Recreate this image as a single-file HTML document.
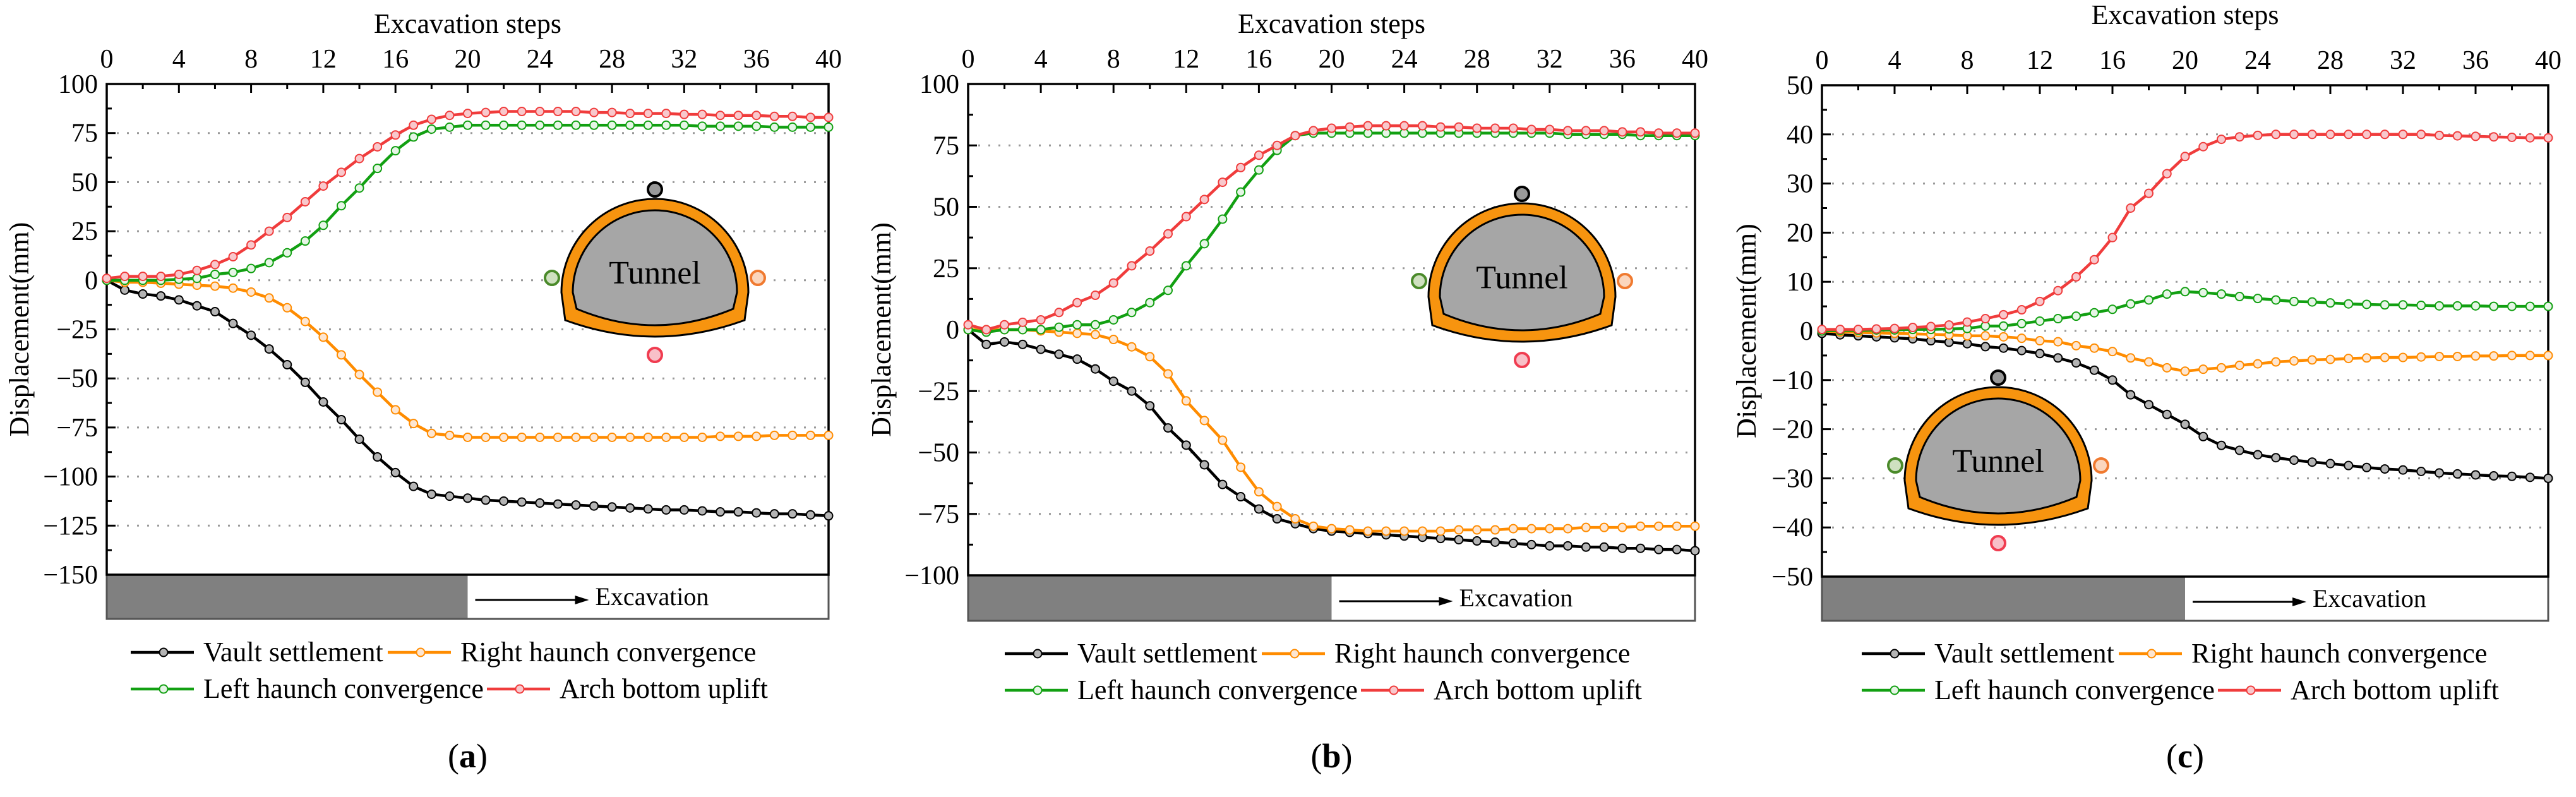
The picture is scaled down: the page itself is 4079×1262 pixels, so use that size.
<!DOCTYPE html>
<html><head><meta charset="utf-8"><style>
html,body{margin:0;padding:0;background:#fff;}
svg{display:block;}
text{font-family:"Liberation Serif","DejaVu Serif",serif;}
</style></head><body>
<svg id="fig" width="4079" height="1262" viewBox="0 0 4079 1262" xmlns="http://www.w3.org/2000/svg" font-family="Liberation Serif, DejaVu Serif, serif"></svg>
<script>
const steps = Array.from({length:41},(_,i)=>i);
const xTicks = [0,4,8,12,16,20,24,28,32,36,40];
const seriesNames = ["Vault settlement","Right haunch convergence","Left haunch convergence","Arch bottom uplift"];

const aVault=[0,-5,-7,-8,-10,-13,-16,-22,-28,-35,-43,-52,-62,-71,-81,-90,-98,-105,-109,-110,-111,-112,-112.5,-113,-113.5,-114,-114.5,-115,-115.5,-116,-116.5,-117,-117,-117.5,-118,-118,-118.5,-119,-119,-119.5,-120];
const aRight=[0,-1,-1,-1.5,-2,-2.5,-3,-4,-6,-9,-14,-21,-29,-38,-48,-57,-66,-73,-78,-79,-80,-80,-80,-80,-80,-80,-80,-80,-80,-80,-80,-80,-80,-80,-79.5,-79.5,-79.5,-79,-79,-79,-79];
const aLeft=[0,0,0,0,0.5,1,3,4,6,9,14,20,28,38,47,57,66,73,77,78,79,79,79,79,79,79,79,79,79,79,79,79,79,78.5,78.5,78.5,78.5,78,78,78,78];
const aArch=[1,2,2,2,3,5,8,12,18,25,32,40,48,55,62,68,74,79,82,84,85,85.5,86,86,86,86,86,85.5,85.5,85,85,85,84.5,84.5,84,84,84,83.5,83.5,83,83];

const bVault=[0,-6,-5,-6,-8,-10,-12,-16,-21,-25,-31,-40,-47,-55,-63,-68,-73,-77,-79,-81,-82,-82.5,-83,-83.5,-84,-84.5,-85,-85.5,-86,-86.5,-87,-87.5,-88,-88,-88.5,-88.5,-89,-89,-89.5,-89.5,-90];
const bRight=[0,0,0,0,-0.5,-1,-1.5,-2,-4,-7,-11,-18,-29,-37,-45,-56,-66,-72,-77,-80,-81,-81.5,-82,-82,-82,-82,-82,-81.5,-81.5,-81.5,-81,-81,-81,-81,-80.5,-80.5,-80.5,-80,-80,-80,-80];
const bLeft=[0,-1,0,0,0,1,2,2,4,7,11,16,26,35,45,56,65,73,79,80,80,80,80,80,80,80,80,80,80,80,80,80,80,79.5,79.5,79.5,79.5,79,79,79,79];
const bArch=[2,0,2,3,4,7,11,14,19,26,32,39,46,53,60,66,71,75,79,81,82,82.5,83,83,83,83,82.5,82.5,82,82,82,81.5,81.5,81,81,81,80.5,80.5,80,80,80];

const cVault=[-0.5,-0.8,-1,-1.2,-1.4,-1.6,-2,-2.3,-2.6,-3.2,-3.5,-4,-4.6,-5.5,-6.5,-8,-10,-13,-15,-17,-19,-21.5,-23.3,-24.3,-25.2,-25.8,-26.3,-26.7,-27,-27.4,-27.8,-28.1,-28.3,-28.6,-28.9,-29.1,-29.3,-29.5,-29.6,-29.8,-30];
const cRight=[0,-0.2,-0.3,-0.4,-0.5,-0.6,-0.7,-0.8,-1,-1,-1.2,-1.5,-2,-2.2,-3,-3.5,-4.2,-5.5,-6.3,-7.5,-8.2,-7.8,-7.5,-7,-6.7,-6.3,-6.1,-5.9,-5.8,-5.6,-5.5,-5.4,-5.4,-5.3,-5.2,-5.2,-5.1,-5.1,-5,-5,-5];
const cLeft=[0,0.1,0.1,0.2,0.2,0.3,0.3,0.4,0.5,1,1,1.5,2,2.5,3,3.7,4.4,5.5,6.3,7.5,8,7.8,7.5,7,6.6,6.3,6,5.9,5.7,5.5,5.4,5.3,5.3,5.2,5.1,5.1,5.1,5,5,5,5];
const cArch=[0.3,0.3,0.3,0.4,0.5,0.7,0.9,1.2,1.8,2.5,3.3,4.3,6,8.2,11,14.5,19,25,28,32,35.5,37.5,39,39.5,39.8,40,40,40,40,40,40,40,40,40,39.8,39.7,39.6,39.5,39.4,39.3,39.3];

const aYTicks=[100,75,50,25,0,-25,-50,-75,-100,-125,-150];
const bYTicks=[100,75,50,25,0,-25,-50,-75,-100];
const cYTicks=[50,40,30,20,10,0,-10,-20,-30,-40,-50];

const NS="http://www.w3.org/2000/svg";
const svg=document.getElementById('fig');
const FF='"Liberation Serif", "DejaVu Serif", serif';
function mk(tag,attrs,parent,text){const e=document.createElementNS(NS,tag);for(const k in attrs)e.setAttribute(k,attrs[k]);if(tag==='text')e.style.fontFamily=FF;if(text!==undefined)e.textContent=text;(parent||svg).appendChild(e);return e;}
const colors=["#000000","#ff8c00","#12a012","#f03c3c"];
const fills=["#b4b4b4","#fde6d2","#e6f5e6","#f8c8cc"];

function panel(cfg){
  const g=mk('g',{});
  
  
  const L=cfg.L,R=cfg.R,T=cfg.T,B=cfg.B,ymax=cfg.yt[0],ymin=cfg.yt[cfg.yt.length-1];
  const X=v=>L+(v-0)/(40-0)*(R-L);
  const Y=v=>T+(ymax-v)/(ymax-ymin)*(B-T);
  cfg.yt.forEach(v=>{if(v===ymax||v===ymin)return;
    const l=mk('line',{x1:L,x2:R,y1:Y(v),y2:Y(v),stroke:'#999','stroke-width':3,'stroke-dasharray':'3 13'},g);
    
    
  });
  const band1=mk('rect',{x:L,y:B,width:X(20)-L,height:cfg.BB-B,fill:'#808080'},g);
  
  
  mk('rect',{x:L,y:B,width:R-L,height:cfg.BB-B,fill:'none',stroke:'#555','stroke-width':3},g);
  const ar=mk('line',{x1:X(20)+12,x2:X(20)+175,y1:(B+cfg.BB)/2+5,y2:(B+cfg.BB)/2+5,stroke:'#000','stroke-width':3},g);
  
  
  mk('polygon',{points:`${X(20)+192},${(B+cfg.BB)/2+5} ${X(20)+170},${(B+cfg.BB)/2-2} ${X(20)+170},${(B+cfg.BB)/2+12}`,fill:'#000'},g);
  const et=mk('text',{x:X(20)+202,y:(B+cfg.BB)/2+13,'font-size':40},g,'Excavation');
  
  
  const fr=mk('rect',{x:L,y:T,width:R-L,height:B-T,fill:'none',stroke:'#000','stroke-width':3.5},g);
  
  
  for(let v=0;v<=40;v+=2){const major=v%4===0;mk('line',{x1:X(v),x2:X(v),y1:T,y2:T+(major?14:8),stroke:'#000','stroke-width':3},g);}
  xTicks.forEach(v=>{const t=mk('text',{x:X(v),y:T-26,'font-size':42,'text-anchor':'middle'},g,String(v));
    
    });
  const xt=mk('text',{x:(L+R)/2,y:cfg.titleY,'font-size':44,'text-anchor':'middle'},g,'Excavation steps');
  
  
  const st=(cfg.yt[0]-cfg.yt[1])/2;
  for(let v=ymax;v>=ymin-0.001;v-=st){const major=Math.abs(((ymax-v)/st)%2)<0.01;mk('line',{x1:L,x2:L+(major?14:8),y1:Y(v),y2:Y(v),stroke:'#000','stroke-width':3},g);}
  cfg.yt.forEach(v=>{const t=mk('text',{x:L-14,y:Y(v)+14,'font-size':42,'text-anchor':'end'},g,(v<0?'\u2212'+(-v):String(v)));
    
    });
  const yl=mk('text',{x:0,y:0,'font-size':44,'text-anchor':'middle',transform:`translate(${cfg.ylx},${(T+B)/2}) rotate(-90)`},g,'Displacement(mm)');
  
  
  const tc=cfg.tun; const tg=mk('g',{},g);
  
  
  const w=tc.r, cx=tc.cx, top=tc.top, bot=tc.bot;
  const shape=(s)=>{const rx=w-s, y0=top+s, yb=bot-s, cyc=y0+rx;
    return `M ${cx-rx} ${cyc} A ${rx} ${rx} 0 0 1 ${cx+rx} ${cyc} L ${cx+rx-6} ${yb-40} Q ${cx} ${yb+12} ${cx-rx+6} ${yb-40} Z`;};
  mk('path',{d:shape(0),fill:'#f7940f',stroke:'#000','stroke-width':3},tg);
  mk('path',{d:shape(18),fill:'#a6a6a6',stroke:'#000','stroke-width':3},tg);
  mk('text',{x:cx,y:(top+bot)/2+18,'font-size':52,'text-anchor':'middle'},tg,'Tunnel');
  mk('circle',{cx:cx,cy:top-15,r:11,fill:'#999',stroke:'#000','stroke-width':4},tg);
  mk('circle',{cx:cx-w-15,cy:tc.my,r:11,fill:'#cfe0c0',stroke:'#4a8a2a','stroke-width':4},tg);
  mk('circle',{cx:cx+w+15,cy:tc.my,r:11,fill:'#fbd6bd',stroke:'#f07a30','stroke-width':4},tg);
  mk('circle',{cx:cx,cy:bot+15,r:11,fill:'#f8c0c8',stroke:'#f03c50','stroke-width':4},tg);
  const names=['vault-settlement','right-haunch','left-haunch','arch-bottom-uplift'];
  [0,1,2,3].forEach(si=>{const data=cfg.data[si];
    const sg=mk('g',{},g);
    
    
    const p=mk('polyline',{points:steps.map((s,i)=>X(s)+','+Y(data[i])).join(' '),fill:'none',stroke:colors[si],'stroke-width':4.5,'stroke-linejoin':'round'},sg);
    
    
    steps.forEach((s,i)=>{const c=mk('circle',{cx:X(s),cy:Y(data[i]),r:6.5,fill:fills[si],stroke:colors[si],'stroke-width':2},sg);
      
      });
  });
  const lg=mk('g',{},g);
  
  
  const ox=cfg.legX, rows=[cfg.legY,cfg.legY+58];
  const pos=[[ox,rows[0]],[ox+407,rows[0]],[ox,rows[1]],[ox+564,rows[1]]];
  pos.forEach((pp,k)=>{const e=mk('g',{},lg);
    
    
    mk('line',{x1:pp[0],x2:pp[0]+100,y1:pp[1],y2:pp[1],stroke:colors[k],'stroke-width':4.5},e);
    mk('circle',{cx:pp[0]+52,cy:pp[1],r:6.5,fill:fills[k],stroke:colors[k],'stroke-width':2},e);
    mk('text',{x:pp[0]+115,y:pp[1]+14,'font-size':44},e,seriesNames[k]);});
  const cap=mk('text',{x:(L+R)/2,y:1215,'font-size':54,'text-anchor':'middle'},g);
  
  
  mk('tspan',{},cap,'(');mk('tspan',{'font-weight':'bold'},cap,cfg.id);mk('tspan',{},cap,')');
}

panel({id:'a',L:169,R:1312,T:133,B:910,BB:980,yt:aYTicks,titleY:52,ylx:45,legX:207,legY:1033,
  data:[aVault,aRight,aLeft,aArch],tun:{cx:1037,r:148,top:315,bot:547,my:440}});
panel({id:'b',L:1533,R:2684,T:133,B:911,BB:983,yt:bYTicks,titleY:52,ylx:1410,legX:1591,legY:1035,
  data:[bVault,bRight,bLeft,bArch],tun:{cx:2410,r:148,top:322,bot:555,my:445}});
panel({id:'c',L:2885,R:4035,T:135,B:913,BB:983,yt:cYTicks,titleY:38,ylx:2780,legX:2948,legY:1035,
  data:[cVault,cRight,cLeft,cArch],tun:{cx:3164,r:148,top:613,bot:845,my:737}});
</script>
</body></html>
